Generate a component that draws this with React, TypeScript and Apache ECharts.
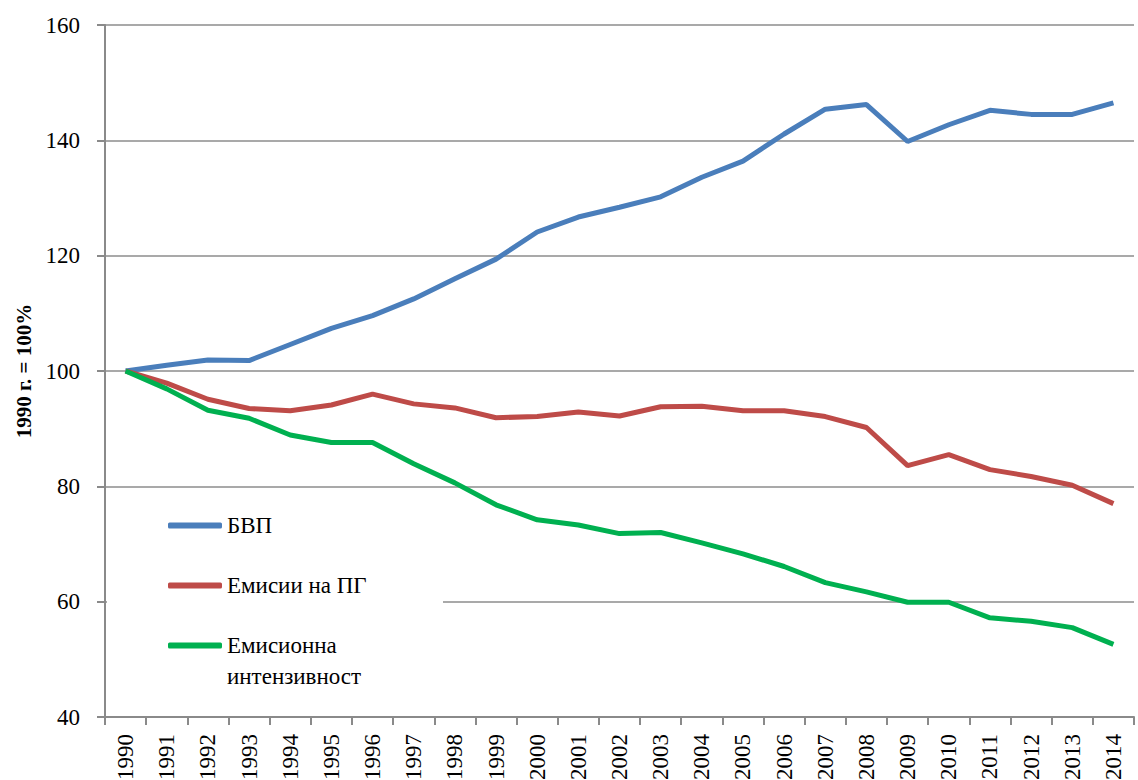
import React, { useEffect, useRef } from "react";
import * as echarts from "echarts";

const years = ["1990","1991","1992","1993","1994","1995","1996","1997","1998","1999","2000","2001","2002","2003","2004","2005","2006","2007","2008","2009","2010","2011","2012","2013","2014"];
const gdp = [100, 101, 101.9, 101.8, 104.6, 107.4, 109.6, 112.5, 116, 119.4, 124.1, 126.7, 128.4, 130.2, 133.6, 136.4, 141.1, 145.4, 146.2, 139.8, 142.7, 145.2, 144.5, 144.5, 146.5];
const ghg = [100, 97.9, 95.1, 93.5, 93.1, 94.1, 96.0, 94.3, 93.6, 91.9, 92.1, 92.9, 92.2, 93.8, 93.9, 93.1, 93.1, 92.1, 90.2, 83.6, 85.5, 82.9, 81.7, 80.2, 77.0];
const intensity = [100, 96.9, 93.2, 91.8, 88.9, 87.6, 87.6, 83.9, 80.6, 76.8, 74.2, 73.3, 71.8, 72.0, 70.2, 68.3, 66.1, 63.3, 61.7, 59.9, 59.9, 57.2, 56.6, 55.5, 52.6];
const seriesNames = ["БВП", "Емисии на ПГ", "Емисионна интензивност"];
const yAxisName = "1990 г. = 100%";

const FONT = "Liberation Serif";

export default function App() {
  const ref = useRef<HTMLDivElement>(null);
  useEffect(() => {
    if (!ref.current) return;
    const chart = echarts.init(ref.current, null, { renderer: "svg" });
    const mkSeries = (name: string, data: number[], color: string) => ({
      name,
      type: "line",
      data,
      symbol: "none",
      lineStyle: { color, width: 5 },
      itemStyle: { color },
      z: 3,
    });
    chart.setOption({
      animation: false,
      backgroundColor: "#ffffff",
      grid: { left: 105, right: 4, top: 25, bottom: 63, containLabel: false, outerBoundsMode: "none" },
      xAxis: {
        type: "category",
        data: years,
        boundaryGap: true,
        axisLine: { lineStyle: { color: "#8a8a8a", width: 2 } },
        axisTick: { show: true, length: 8, alignWithLabel: false, lineStyle: { color: "#8a8a8a", width: 2 } },
        axisLabel: { rotate: 90, interval: 0, margin: 17, color: "#000", fontFamily: FONT, fontSize: 23 },
        splitLine: { show: false },
      },
      yAxis: {
        type: "value",
        min: 40,
        max: 160,
        interval: 20,
        name: yAxisName,
        nameLocation: "middle",
        nameGap: 71,
        nameRotate: 90,
        nameTextStyle: { color: "#000", fontFamily: FONT, fontSize: 21, fontWeight: "bold" },
        axisLine: { show: true, lineStyle: { color: "#8a8a8a", width: 2 } },
        axisTick: { show: true, length: 8, lineStyle: { color: "#8a8a8a", width: 2 } },
        axisLabel: { margin: 25, color: "#000", fontFamily: FONT, fontSize: 23 },
        splitLine: { show: true, lineStyle: { color: "#8c8c8c", width: 1.5 } },
      },
      legend: {
        orient: "vertical",
        left: 168,
        top: 514,
        padding: 0,
        itemGap: 37,
        itemWidth: 54,
        itemHeight: 6,
        icon: "roundRect",
        data: seriesNames,
        formatter: (n: string) => (n === seriesNames[2] ? "Емисионна" : n),
        textStyle: { color: "#000", fontFamily: FONT, fontSize: 23 },
        z: 5,
      },
      graphic: [
        {
          type: "rect",
          shape: { x: 107, y: 494, width: 336, height: 220 },
          style: { fill: "#ffffff" },
          z: 1,
          silent: true,
        },
        {
          type: "text",
          left: 227,
          top: 665,
          z: 6,
          style: { text: "интензивност", fill: "#000", fontFamily: FONT, fontSize: 23 },
        },
      ],
      series: [
        mkSeries(seriesNames[0], gdp, "#4a7ebb"),
        mkSeries(seriesNames[1], ghg, "#be4b48"),
        mkSeries(seriesNames[2], intensity, "#00b050"),
      ],
    });
    return () => chart.dispose();
  }, []);
  return (
    <div
      ref={ref}
      style={{ position: "fixed", left: 0, top: 0, width: 1138, height: 780, background: "#fff" }}
    />
  );
}
